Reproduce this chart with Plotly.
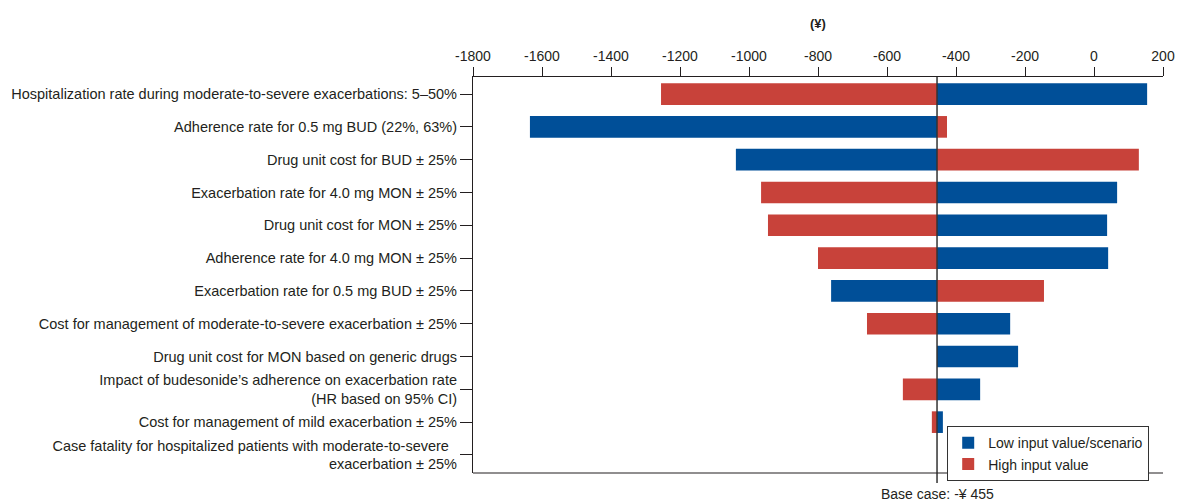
import plotly.graph_objects as go

# Tornado diagram: one-way sensitivity of incremental cost around the base case
BASE_CASE = -455

PARAMETERS = [
    "Hospitalization rate during moderate-to-severe exacerbations: 5\u201350%",
    "Adherence rate for 0.5 mg BUD (22%, 63%)",
    "Drug unit cost for BUD \u00b1 25%",
    "Exacerbation rate for 4.0 mg MON \u00b1 25%",
    "Drug unit cost for MON \u00b1 25%",
    "Adherence rate for 4.0 mg MON \u00b1 25%",
    "Exacerbation rate for 0.5 mg BUD \u00b1 25%",
    "Cost for management of moderate-to-severe exacerbation \u00b1 25%",
    "Drug unit cost for MON based on generic drugs",
    "Impact of budesonide\u2019s adherence on exacerbation rate<br>(HR based on 95% CI)",
    "Cost for management of mild exacerbation \u00b1 25%",
    "Case fatality for hospitalized patients with moderate-to-severe\u00a0\u00a0<br>exacerbation \u00b1 25%",
]

# Result (¥) with each parameter at its low / high input value
LOW_VALUES = [154, -1635, -1038, 67, 38, 41, -762, -243, -220, -330, -438, None]
HIGH_VALUES = [-1255, -426, 130, -965, -945, -800, -145, -658, None, -554, -470, None]

X_TICK_VALUES = [-1800, -1600, -1400, -1200, -1000, -800, -600, -400, -200, 0, 200]
X_TICK_LABELS = ["-1800", "-1600", "-1400", "-1200", "-1000", "-800", "-600",
                 "-400", "-200", "0", "200"]

BLUE = "#004f98"
RED = "#c8423a"
INK = "#231f20"
FONT = "Liberation Sans, Arial, Helvetica, sans-serif"

rows = list(range(len(PARAMETERS)))


def offsets(values):
    return [None if v is None else v - BASE_CASE for v in values]


fig = go.Figure()
fig.add_trace(go.Bar(
    y=rows, x=offsets(LOW_VALUES), base=BASE_CASE, orientation="h",
    name="Low input value/scenario", marker=dict(color=BLUE, line=dict(width=0)),
    width=0.66,
))
fig.add_trace(go.Bar(
    y=rows, x=offsets(HIGH_VALUES), base=BASE_CASE, orientation="h",
    name="High input value", marker=dict(color=RED, line=dict(width=0)),
    width=0.66,
))

# base-case reference line and bottom frame line
fig.add_shape(type="line", xref="x", yref="paper", x0=BASE_CASE, x1=BASE_CASE,
              y0=-0.025, y1=1, line=dict(color="#333333", width=1.5), layer="above")
fig.add_shape(type="line", xref="paper", yref="paper", x0=0, x1=1, y0=0, y1=0,
              line=dict(color=INK, width=1.2))

fig.add_annotation(text="<b>(\u00a5)</b>", xref="paper", yref="paper", x=0.5, y=1.136,
                   yanchor="middle", showarrow=False,
                   font=dict(size=13, color=INK, family=FONT))
fig.add_annotation(text=f"Base case: -\u00a5 {abs(BASE_CASE)}", xref="x", yref="paper",
                   x=BASE_CASE, y=-0.053, yanchor="middle", showarrow=False,
                   font=dict(size=14, color=INK, family=FONT))

fig.update_layout(
    width=1177, height=503,
    margin=dict(l=473, r=14, t=77, b=30, autoexpand=False),
    paper_bgcolor="white", plot_bgcolor="white",
    barmode="overlay",
    showlegend=True,
    font=dict(family=FONT, size=14.5, color=INK),
    legend=dict(
        x=0.98, y=0.118, xanchor="right", yanchor="top",
        bordercolor="#333333", borderwidth=1, bgcolor="white",
        font=dict(size=14, color=INK, family=FONT),
        itemsizing="constant", tracegroupgap=0,
    ),
    xaxis=dict(
        side="top", range=[-1800, 200],
        tickvals=X_TICK_VALUES, ticktext=X_TICK_LABELS,
        tickfont=dict(size=14), automargin=False, ticklabeloverflow="allow",
        ticks="outside", ticklen=9, tickwidth=1.2, tickcolor=INK,
        showline=True, linecolor=INK, linewidth=1.2,
        showgrid=False, zeroline=False, fixedrange=True,
    ),
    yaxis=dict(
        range=[11.55, -0.52], automargin=False,
        tickvals=rows, ticktext=PARAMETERS,
        ticks="outside", ticklen=12, tickwidth=1.2, tickcolor=INK,
        showline=True, linecolor=INK, linewidth=1.2,
        showgrid=False, zeroline=False, fixedrange=True,
    ),
)

fig.write_html("out.html")
